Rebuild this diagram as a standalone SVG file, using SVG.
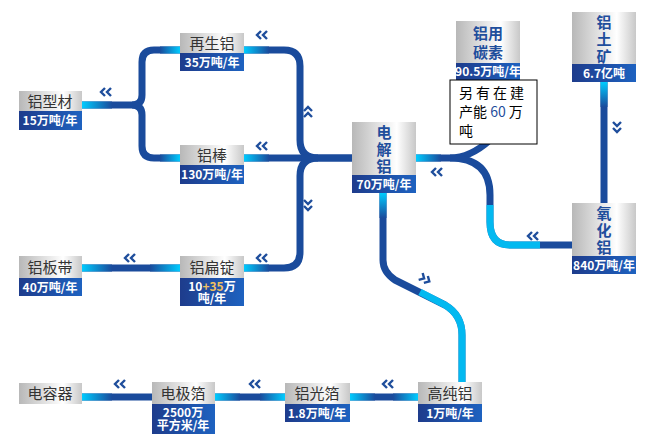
<svg xmlns="http://www.w3.org/2000/svg" width="652" height="439" viewBox="0 0 652 439">
<style>
.g{fill:url(#gg)}
.b{fill:url(#bg)}
.lt{font-family:"Noto Sans CJK SC","Noto Sans",sans-serif;font-size:15px;fill:#333;text-anchor:middle}
.vt{font-family:"Noto Sans CJK SC","Noto Sans",sans-serif;font-size:15px;font-weight:bold;fill:#1f4e9c;text-anchor:middle}
.wt{font-family:"Noto Sans CJK SC","Noto Sans",sans-serif;font-size:12px;font-weight:bold;fill:#fff;text-anchor:middle}
.ln{fill:none;stroke:#1a4b9c;stroke-width:7;stroke-linejoin:round}
.ch{fill:none;stroke:#1f4e9c;stroke-width:2.4}
</style>
<defs>
<linearGradient id="gg" x1="0" x2="1" y1="0" y2="0"><stop offset="0" stop-color="#b8b8b8"/><stop offset="0.7" stop-color="#ffffff"/><stop offset="1" stop-color="#c8c8c8"/></linearGradient>
<linearGradient id="bg" x1="0" x2="1" y1="0" y2="0"><stop offset="0" stop-color="#1e3c8c"/><stop offset="1" stop-color="#1e62c0"/></linearGradient>
<linearGradient id="fr" x1="0" x2="1"><stop offset="0" stop-color="#00ccff"/><stop offset="1" stop-color="#1a4b9c"/></linearGradient>
<linearGradient id="fl" x1="0" x2="1"><stop offset="0" stop-color="#1a4b9c"/><stop offset="1" stop-color="#00ccff"/></linearGradient>
<linearGradient id="fd" x1="0" x2="0" y1="0" y2="1"><stop offset="0" stop-color="#00ccff"/><stop offset="1" stop-color="#1a4b9c"/></linearGradient>
<g id="chev"><polyline class="ch" points="-1,-4 -5,0 -1,4"/><polyline class="ch" points="5,-4 1,0 5,4"/></g>
</defs>
<g id="connectors">
<path class="ln" d="M82,105 H132 Q142,105 142,95 V62 Q142,50 154,50 H180"/>
<path class="ln" d="M132,105 Q142,105 142,115 V146 Q142,158 154,158 H180"/>
<path class="ln" d="M244,50 H284 Q300,50 300,66 V140 Q300,158 318,158 H352"/>
<path class="ln" d="M244,158 H352"/>
<path class="ln" d="M318,158 Q300,158 300,176 V252 Q300,268 284,268 H244"/>
<path class="ln" d="M82,268 H180"/>
<path class="ln" d="M416,158 H450 Q470,158 490,140"/>
<path class="ln" d="M450,158 Q490,158 490,195 V222 Q490,245 510,245 H572"/>
<path class="ln" d="M604,82 V203"/>
<path class="ln" d="M383,193 V260 Q383,272 395,280 L445,305 Q462,315 462,335 V382"/>
<path class="ln" d="M82,397 H152 M215,397 H285 M350,397 H418"/>
<rect x="82" y="101.5" width="30" height="7" fill="url(#fr)"/>
<rect x="160" y="46.5" width="20" height="7" fill="url(#fl)"/>
<rect x="160" y="154.5" width="20" height="7" fill="url(#fl)"/>
<rect x="244" y="46.5" width="25" height="7" fill="url(#fr)"/>
<rect x="244" y="154.5" width="25" height="7" fill="url(#fr)"/>
<rect x="244" y="264.5" width="25" height="7" fill="url(#fr)"/>
<rect x="82" y="264.5" width="30" height="7" fill="url(#fr)"/>
<rect x="150" y="264.5" width="30" height="7" fill="url(#fl)"/>
<rect x="416" y="154.5" width="25" height="7" fill="url(#fr)"/>
<rect x="600.5" y="82" width="7" height="25" fill="url(#fd)"/>
<rect x="379.5" y="193" width="7" height="25" fill="url(#fd)"/>
<path d="M420,292 L445,305 Q462,315 462,335 V382" fill="none" stroke="#00ccff" stroke-width="7" opacity="0.85"/>
<path d="M490,205 V222 Q490,245 510,245 H540" fill="none" stroke="#00ccff" stroke-width="7" opacity="0.85"/>
<rect x="82" y="393.5" width="30" height="7" fill="url(#fr)"/>
<rect x="215" y="393.5" width="25" height="7" fill="url(#fr)"/>
<rect x="260" y="393.5" width="25" height="7" fill="url(#fl)"/>
<rect x="350" y="393.5" width="25" height="7" fill="url(#fr)"/>
<rect x="393" y="393.5" width="25" height="7" fill="url(#fl)"/>
<use href="#chev" x="262" y="35"/>
<use href="#chev" x="106" y="92"/>
<use href="#chev" x="262" y="146"/>
<use href="#chev" x="262" y="258"/>
<use href="#chev" x="130" y="258"/>
<use href="#chev" x="437" y="172"/>
<use href="#chev" x="533" y="236"/>
<use href="#chev" x="120" y="384"/>
<use href="#chev" x="255" y="384"/>
<use href="#chev" x="388" y="384"/>
<use href="#chev" transform="translate(308,112) rotate(90)"/>
<use href="#chev" transform="translate(308,205) rotate(-90)"/>
<use href="#chev" transform="translate(617,127) rotate(-90)"/>
<use href="#chev" transform="translate(425,279) rotate(210)"/>
</g>
<g id="n_zsl"><rect class="g" x="180" y="33" width="64" height="20"/><rect class="b" x="180" y="53" width="64" height="18"/><text class="lt" x="212" y="49">再生铝</text><text class="wt" x="212" y="67">35万吨/年</text></g>
<g id="n_lxc"><rect class="g" x="19" y="91" width="63" height="20"/><rect class="b" x="19" y="111" width="63" height="19"/><text class="lt" x="50" y="107">铝型材</text><text class="wt" x="50" y="125">15万吨/年</text></g>
<g id="n_lb"><rect class="g" x="180" y="145" width="64" height="20"/><rect class="b" x="180" y="165" width="64" height="19"/><text class="lt" x="212" y="161">铝棒</text><text class="wt" x="212" y="179">130万吨/年</text></g>
<g id="n_lbd"><rect class="g" x="19" y="256" width="63" height="22"/><rect class="b" x="19" y="278" width="63" height="18"/><text class="lt" x="50" y="273">铝板带</text><text class="wt" x="50" y="292">40万吨/年</text></g>
<g id="n_lbding"><rect class="g" x="180" y="256" width="64" height="22"/><rect class="b" x="180" y="278" width="64" height="28"/><text class="lt" x="212" y="273">铝扁锭</text><text class="wt" x="212" y="291">10<tspan fill="#f0c060">+35</tspan>万</text><text class="wt" x="212" y="303">吨/年</text></g>
<g id="n_djl"><rect class="g" x="352" y="122" width="64" height="53"/><rect class="b" x="352" y="175" width="64" height="18"/><text class="vt" x="384" y="138">电</text><text class="vt" x="384" y="155">解</text><text class="vt" x="384" y="172">铝</text><text class="wt" x="384" y="189">70万吨/年</text></g>
<g id="n_ts"><rect class="g" x="456" y="21" width="64" height="42"/><rect class="b" x="456" y="63" width="64" height="17"/><text class="vt" x="488" y="39">铝用</text><text class="vt" x="488" y="58">碳素</text><text class="wt" x="488" y="76">90.5万吨/年</text></g>
<g id="n_ltk"><rect class="g" x="572" y="12" width="64" height="52"/><rect class="b" x="572" y="64" width="64" height="18"/><text class="vt" x="604" y="28">铝</text><text class="vt" x="604" y="45">土</text><text class="vt" x="604" y="62">矿</text><text class="wt" x="604" y="78">6.7亿吨</text></g>
<g id="n_yhl"><rect class="g" x="572" y="203" width="64" height="53"/><rect class="b" x="572" y="256" width="64" height="18"/><text class="vt" x="604" y="219">氧</text><text class="vt" x="604" y="236">化</text><text class="vt" x="604" y="253">铝</text><text class="wt" x="604" y="270">840万吨/年</text></g>
<g id="n_gcl"><rect class="g" x="418" y="382" width="64" height="22"/><rect class="b" x="418" y="404" width="64" height="18"/><text class="lt" x="450" y="399">高纯铝</text><text class="wt" x="450" y="418">1万吨/年</text></g>
<g id="n_lgb"><rect class="g" x="285" y="383" width="65" height="21"/><rect class="b" x="285" y="404" width="65" height="18"/><text class="lt" x="317" y="399">铝光箔</text><text class="wt" x="317" y="418">1.8万吨/年</text></g>
<g id="n_djb"><rect class="g" x="152" y="382" width="63" height="22"/><rect class="b" x="152" y="404" width="63" height="30"/><text class="lt" x="183" y="399">电极箔</text><text class="wt" x="183" y="417">2500万</text><text class="wt" x="183" y="430">平方米/年</text></g>
<g id="n_drq"><rect class="g" x="19" y="383" width="63" height="21"/><text class="lt" x="50" y="399">电容器</text></g>
<g id="callout"><rect x="450" y="80" width="87" height="64" fill="#fff" stroke="#000" stroke-width="1"/><text font-family="Noto Sans CJK SC,sans-serif" font-size="14" fill="#000"><tspan x="459" y="98" letter-spacing="3">另有在建</tspan><tspan x="459" y="117">产能 <tspan fill="#1f4e9c">60</tspan> 万</tspan><tspan x="459" y="136">吨</tspan></text></g>
</svg>
